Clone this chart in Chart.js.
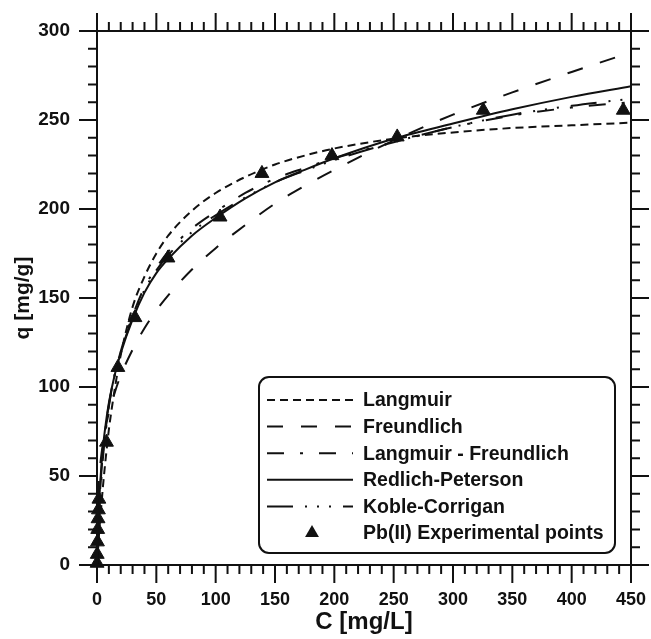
<!DOCTYPE html>
<html>
<head>
<meta charset="utf-8">
<script src="https://cdn.jsdelivr.net/npm/chart.js@4/dist/chart.umd.min.js"></script>
<style>
  html, body { margin: 0; padding: 0; background: #fff; }
</style>
</head>
<body>
<canvas id="isoCanvas" width="651" height="639"></canvas>
<script>
// isotermas Pb(II): puntos experimentales + 5 modelos ajustados
const X_TICKS = [0, 50, 100, 150, 200, 250, 300, 350, 400, 450];
const Y_TICKS = [0, 50, 100, 150, 200, 250, 300];

// C [mg/L] donde se leyeron las curvas
const C_FIT = [0, 0.5, 1, 2, 3, 5, 7.5, 10, 15, 20, 30, 40, 50, 60, 80, 100, 125, 150, 175, 200, 250, 300, 350, 400, 450];
const Q_LANGMUIR = [0, 5, 10, 20, 28, 44, 61, 76, 99, 118, 145, 162, 175, 185, 199, 209, 218, 225, 230, 234, 239.5, 243, 245.5, 247, 248.5];
const Q_FREUNDLICH = [0, 33, 41, 51, 58, 68.5, 78, 85.5, 97, 106.5, 121, 133, 143, 151.5, 166, 178, 191, 203, 213, 222, 238.5, 253, 265.5, 277, 288];
const Q_LF = [0, 10, 18, 31, 42, 60, 76, 89, 107, 120, 140, 156, 167, 176, 189, 198.5, 209, 217, 223, 228.5, 237.5, 246, 252.5, 257, 260];
const Q_RP = [0, 14, 24, 38, 49, 66, 80, 91, 107, 119, 138, 153, 164, 172, 185, 195, 206, 215, 222, 228.5, 239.5, 248, 256, 263, 269];
const Q_KC = [0, 12, 21, 35, 46, 63, 78, 90, 107, 119.5, 139, 154.5, 165.5, 174, 187, 196.5, 206.5, 215, 221.5, 227.5, 237.5, 246, 253, 258, 262];

const EXP_C = [0.1, 0.2, 0.4, 0.6, 0.9, 1.2, 1.6, 8, 17.6, 32, 59.8, 103.7, 139, 198, 253, 325.5, 443.5];
const EXP_Q = [1, 6, 13, 20, 26, 31, 37, 69, 111, 139, 172.5, 195.5, 220, 230, 240.5, 255.5, 255.5];

const INK = '#111';
const FONT = "'Liberation Sans', Arial, sans-serif";

const pts = (xs, ys) => xs.map((c, i) => ({ x: c, y: ys[i] }));

function curve(label, ys, dash) {
  return {
    type: 'line',
    label,
    data: pts(C_FIT, ys),
    borderColor: INK,
    borderWidth: 2,
    borderDash: dash,
    borderCapStyle: 'butt',
    fill: false,
    pointRadius: 0,
    cubicInterpolationMode: 'monotone',
  };
}

const datasets = [
  curve('Langmuir', Q_LANGMUIR, [8, 5]),
  curve('Freundlich', Q_FREUNDLICH, [16, 18]),
  curve('Langmuir - Freundlich', Q_LF, [17, 16, 3, 16]),
  curve('Redlich-Peterson', Q_RP, []),
  curve('Koble-Corrigan', Q_KC, [26, 12, 2, 10, 2, 10, 2, 12]),
  {
    type: 'scatter',
    label: 'Pb(II) Experimental points',
    data: pts(EXP_C, EXP_Q),
    pointStyle: 'triangle',
    pointRadius: 8,
    backgroundColor: INK,
    borderColor: INK,
    borderWidth: 1,
    clip: false,
  },
];

// marco + ticks mayores/menores hacia afuera en los 4 lados
const framePlugin = {
  id: 'frame',
  afterDatasetsDraw(chart) {
    const { ctx, chartArea: a, scales: { x, y } } = chart;
    ctx.save();
    ctx.strokeStyle = INK;
    ctx.lineWidth = 2;
    ctx.strokeRect(a.left, a.top, a.right - a.left, a.bottom - a.top);
    ctx.beginPath();
    for (let v = X_TICKS[0]; v <= X_TICKS[X_TICKS.length - 1]; v += 10) {
      const px = x.getPixelForValue(v), len = v % 50 ? 9 : 18;
      ctx.moveTo(px, a.bottom); ctx.lineTo(px, a.bottom + len);
      ctx.moveTo(px, a.top); ctx.lineTo(px, a.top - len);
    }
    for (let v = Y_TICKS[0]; v <= Y_TICKS[Y_TICKS.length - 1]; v += 10) {
      const py = y.getPixelForValue(v), len = v % 50 ? 9 : 18;
      ctx.moveTo(a.left, py); ctx.lineTo(a.left - len, py);
      ctx.moveTo(a.right, py); ctx.lineTo(a.right + len, py);
    }
    ctx.stroke();
    ctx.restore();
  },
};

// leyenda en caja redondeada
const legendPlugin = {
  id: 'boxLegend',
  afterDraw(chart) {
    const { ctx } = chart;
    const bx = 259, by = 377, bw = 356, bh = 176, r = 10;
    ctx.save();
    ctx.beginPath();
    ctx.roundRect(bx, by, bw, bh, r);
    ctx.fillStyle = '#fff';
    ctx.fill();
    ctx.lineWidth = 2;
    ctx.strokeStyle = INK;
    ctx.stroke();

    ctx.font = `bold 19.5px ${FONT}`;
    ctx.textBaseline = 'middle';
    ctx.fillStyle = INK;
    chart.data.datasets.forEach((ds, i) => {
      const ry = 400 + i * 26.6;
      if (ds.type === 'scatter') {
        const cx = 312, rad = 8;
        ctx.beginPath();
        ctx.moveTo(cx, ry - rad);
        ctx.lineTo(cx + rad * 0.866, ry + rad / 2);
        ctx.lineTo(cx - rad * 0.866, ry + rad / 2);
        ctx.closePath();
        ctx.fill();
      } else {
        ctx.beginPath();
        ctx.setLineDash(ds.borderDash);
        ctx.lineWidth = 2;
        ctx.moveTo(267, ry);
        ctx.lineTo(353, ry);
        ctx.stroke();
        ctx.setLineDash([]);
      }
      ctx.fillText(ds.label, 363, ry + 1);
    });
    ctx.restore();
  },
};

Chart.defaults.font.family = FONT;
Chart.defaults.color = INK;

new Chart(document.getElementById('isoCanvas').getContext('2d'), {
  type: 'scatter',
  data: { datasets },
  options: {
    responsive: false,
    animation: false,
    layout: { padding: { top: 31, right: 20, left: 0, bottom: 0 } },
    plugins: { legend: { display: false }, tooltip: { enabled: false } },
    scales: {
      x: {
        type: 'linear',
        min: X_TICKS[0],
        max: X_TICKS[X_TICKS.length - 1],
        afterBuildTicks: (s) => { s.ticks = X_TICKS.map((v) => ({ value: v })); },
        afterFit: (s) => { s.height = 74; s.paddingLeft = 0; s.paddingRight = 0; },
        grid: { display: false },
        border: { display: false },
        ticks: { padding: 16, font: { size: 18, weight: 'bold' }, maxRotation: 0 },
        title: { display: true, text: 'C [mg/L]', font: { size: 24, weight: 'bold' }, padding: { top: 0, bottom: 2 } },
      },
      y: {
        type: 'linear',
        min: Y_TICKS[0],
        max: Y_TICKS[Y_TICKS.length - 1],
        afterBuildTicks: (s) => { s.ticks = Y_TICKS.map((v) => ({ value: v })); },
        afterFit: (s) => { s.width = 97; s.paddingTop = 0; s.paddingBottom = 0; },
        grid: { display: false },
        border: { display: false },
        ticks: { padding: 19, font: { size: 19, weight: 'bold' } },
        title: { display: true, text: 'q [mg/g]', font: { size: 21, weight: 'bold' }, padding: { top: 11, bottom: 0 } },
      },
    },
  },
  plugins: [framePlugin, legendPlugin],
});
</script>
</body>
</html>
